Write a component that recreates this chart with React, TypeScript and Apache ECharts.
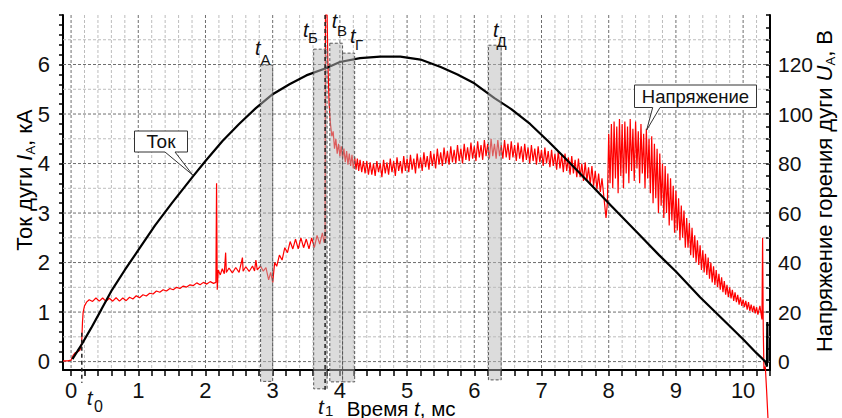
import React, { useEffect, useRef } from 'react';
import * as echarts from 'echarts';

const FONT = "'Liberation Sans', Arial, Helvetica, sans-serif";

// Axis ranges
const T_MIN = -0.12;
const T_MAX = 10.4;
const I_MIN = -0.17;
const I_MAX = 7;

// Axis tick labels
const timeTicks = [0, 1, 2, 3, 4, 5, 6, 7, 8, 9, 10];
const currentTicks = [0, 1, 2, 3, 4, 5, 6];
const voltageTicks = [0, 20, 40, 60, 80, 100, 120];

// Arc current I_A, kA  [t (ms), I (kA)]
const currentData: [number, number][] = [
  [0.02, 0.05], [0.1, 0.22], [0.16, 0.35], [0.3, 0.68], [0.45, 1.05], [0.61, 1.45],
  [0.8, 1.85], [1.0, 2.25], [1.25, 2.75], [1.5, 3.2], [1.82, 3.75], [2.0, 4.05],
  [2.25, 4.45], [2.5, 4.8], [2.75, 5.12], [3.0, 5.4], [3.25, 5.6], [3.5, 5.78],
  [3.8, 5.93], [4.0, 6.05], [4.3, 6.13], [4.6, 6.16], [4.9, 6.16], [5.2, 6.1],
  [5.5, 5.95], [5.75, 5.8], [6.0, 5.62], [6.3, 5.32], [6.55, 5.1], [6.83, 4.8],
  [7.1, 4.45], [7.43, 4.0], [7.7, 3.62], [8.0, 3.2], [8.25, 2.85], [8.5, 2.5],
  [8.75, 2.15], [9.0, 1.82], [9.36, 1.3], [9.7, 0.85], [10.0, 0.45], [10.2, 0.17],
  [10.33, 0.0], [10.355, -0.1], [10.36, 0.8], [10.365, 0.0]
];

// Arc burning voltage U_A, V  [t (ms), U (V)]
const voltageData: [number, number][] = [
  [-0.12, 0.3], [-0.05, 0.3], [0, 0.6], [0.03, 2.5], [0.06, 3.5], [0.1, 4], [0.13, 4.6],
  [0.15, 6], [0.16, 9], [0.17, 16], [0.18, 20], [0.2, 22.5], [0.23, 24], [0.27, 25],
  [0.32, 24.3], [0.37, 25.7], [0.42, 24.4], [0.47, 25.7], [0.52, 24.3], [0.57, 25.6],
  [0.62, 24.4], [0.67, 25.8], [0.72, 24.4], [0.77, 25.7], [0.82, 24.6], [0.87, 26],
  [0.92, 25.3], [0.97, 26.6], [1.02, 25.8], [1.07, 27], [1.12, 26.5], [1.17, 27.6],
  [1.22, 27.3], [1.27, 28.5], [1.32, 28], [1.37, 29], [1.42, 28.5], [1.47, 29.5],
  [1.52, 29], [1.57, 30], [1.62, 29.5], [1.67, 30.5], [1.72, 30.1], [1.77, 31],
  [1.82, 30.7], [1.87, 31.8], [1.92, 31], [1.97, 32], [2.02, 31.3], [2.07, 32.3],
  [2.12, 31.6], [2.155, 32],
  [2.165, 72], [2.175, 29], [2.19, 37], [2.22, 35], [2.25, 37.5], [2.28, 35.5], [2.3, 44],
  [2.31, 36], [2.35, 37.8], [2.4, 35.8], [2.45, 38], [2.5, 36], [2.55, 42], [2.56, 36.5],
  [2.6, 38.3], [2.65, 36.4], [2.7, 38.6], [2.73, 36.6], [2.75, 41], [2.77, 37], [2.82, 38.6],
  [2.86, 36.5], [2.9, 38], [2.94, 33], [2.97, 36], [3.0, 32], [3.03, 40], [3.06, 38.5],
  [3.1, 43], [3.14, 41], [3.18, 46], [3.22, 44], [3.26, 48.5], [3.3, 45.5], [3.34, 49.5],
  [3.38, 45.5], [3.42, 50], [3.46, 46], [3.5, 49.5], [3.54, 45.5], [3.58, 50], [3.62, 46],
  [3.66, 51], [3.7, 47.5], [3.74, 52], [3.765, 48],
  [3.78, 50], [3.785, 140], [3.81, 140], [3.82, 122], [3.84, 104], [3.86, 96], [3.88, 91],
  [3.9, 93], [3.92, 86], [3.94, 90], [3.96, 84], [3.98, 88], [4.0, 83], [4.02, 87], [4.04, 82],
  [4.06, 86], [4.08, 80.5], [4.1, 85], [4.12, 79.5], [4.14, 84], [4.16, 79], [4.18, 83.5],
  [4.2, 78], [4.22, 82.5], [4.24, 77.5], [4.26, 82], [4.28, 77], [4.3, 81.5], [4.325, 76.5],
  [4.35, 81], [4.375, 76], [4.4, 81], [4.425, 75.5], [4.45, 80.5], [4.475, 75.5], [4.5, 80],
  [4.525, 75], [4.55, 81], [4.575, 76.5], [4.6, 80], [4.625, 74.5], [4.65, 81.5], [4.675, 76],
  [4.7, 80.5], [4.725, 75.5], [4.75, 82], [4.775, 76.5], [4.8, 81], [4.825, 75], [4.85, 82.5],
  [4.875, 77], [4.9, 81], [4.925, 76], [4.95, 83], [4.975, 77], [5.0, 82], [5.025, 76.5],
  [5.05, 83.5], [5.075, 77.5], [5.1, 82], [5.125, 76], [5.15, 84], [5.175, 78], [5.2, 82.5],
  [5.225, 77], [5.25, 84.5], [5.275, 78.5], [5.3, 83], [5.325, 77.5], [5.35, 85], [5.375, 79],
  [5.4, 84], [5.425, 78], [5.45, 86], [5.475, 79.5], [5.5, 84.5], [5.525, 79], [5.55, 86.5],
  [5.575, 80], [5.6, 85], [5.625, 79.5], [5.65, 87], [5.675, 80.5], [5.7, 85.5], [5.725, 80],
  [5.75, 87.5], [5.775, 81], [5.8, 86], [5.825, 80], [5.85, 88], [5.875, 81.5], [5.9, 86.5],
  [5.925, 81], [5.95, 88.5], [5.975, 82], [6.0, 87], [6.025, 81], [6.05, 89], [6.075, 82.5],
  [6.1, 87.5], [6.125, 81.5], [6.15, 89.5], [6.175, 83], [6.2, 88], [6.225, 82], [6.25, 90],
  [6.275, 83], [6.3, 88], [6.325, 82], [6.35, 89.5], [6.375, 83], [6.4, 87.5], [6.425, 82],
  [6.45, 89.5], [6.475, 82.5], [6.5, 88], [6.525, 81.5], [6.55, 89], [6.575, 82.5], [6.6, 87.5],
  [6.625, 81], [6.65, 88.5], [6.675, 82], [6.7, 87], [6.725, 80.5], [6.75, 88], [6.775, 81.5],
  [6.8, 86.5], [6.825, 80], [6.85, 87.5], [6.875, 81], [6.9, 86], [6.925, 79.5], [6.95, 87],
  [6.975, 80.5], [7.0, 85.5], [7.025, 79], [7.05, 86.5], [7.075, 80], [7.1, 85], [7.125, 78.5],
  [7.15, 85.5], [7.175, 79], [7.2, 84], [7.225, 77.5], [7.25, 85], [7.275, 78], [7.3, 83.5],
  [7.325, 76.5], [7.35, 84], [7.375, 77], [7.4, 82.5], [7.425, 75.5], [7.45, 83], [7.475, 76],
  [7.5, 81.5], [7.525, 74.5], [7.55, 82], [7.575, 74.5], [7.6, 80], [7.625, 73], [7.65, 80.5],
  [7.675, 73], [7.7, 78.5], [7.725, 71.5], [7.75, 79], [7.775, 71], [7.8, 77], [7.825, 69.5],
  [7.85, 76], [7.875, 68.5], [7.9, 74], [7.93, 66], [7.96, 58], [7.98, 64],
  [8.0, 92], [8.02, 72], [8.04, 96], [8.06, 70], [8.08, 97], [8.1, 74], [8.12, 95], [8.14, 68],
  [8.16, 98], [8.18, 75], [8.2, 96], [8.22, 70], [8.24, 97], [8.26, 76], [8.28, 95], [8.3, 72],
  [8.32, 98], [8.34, 77], [8.36, 94], [8.38, 73], [8.4, 97], [8.42, 78], [8.44, 93], [8.46, 72],
  [8.48, 96], [8.5, 76], [8.52, 92], [8.54, 70], [8.56, 94], [8.58, 74],
  [8.6, 90], [8.62, 68], [8.64, 91], [8.66, 64], [8.68, 88], [8.7, 66], [8.72, 86], [8.74, 60],
  [8.76, 84], [8.78, 63], [8.8, 80], [8.82, 58], [8.84, 79], [8.86, 60], [8.88, 76], [8.9, 55],
  [8.92, 74], [8.94, 57], [8.96, 71], [8.98, 52], [9.0, 69], [9.02, 53], [9.04, 66], [9.06, 49],
  [9.08, 63], [9.1, 50], [9.12, 61], [9.14, 46], [9.16, 58], [9.18, 46], [9.2, 56], [9.22, 43],
  [9.24, 54], [9.26, 42], [9.28, 51], [9.3, 40], [9.32, 49], [9.34, 39], [9.36, 47], [9.38, 37],
  [9.4, 45], [9.42, 36], [9.44, 43.5], [9.46, 35], [9.48, 42], [9.5, 33.5], [9.52, 40], [9.54, 32],
  [9.56, 38.5], [9.58, 31], [9.6, 37], [9.62, 30], [9.64, 35.5], [9.66, 29], [9.68, 34], [9.7, 28],
  [9.72, 32.5], [9.74, 27], [9.76, 31], [9.78, 26], [9.8, 30], [9.82, 25.5], [9.84, 29],
  [9.86, 24.5], [9.88, 28], [9.9, 24], [9.92, 27], [9.94, 23], [9.96, 26], [9.98, 22.5],
  [10.0, 25], [10.02, 22], [10.04, 24.5], [10.06, 21], [10.08, 24], [10.1, 20.5], [10.12, 23],
  [10.14, 20], [10.16, 22.5], [10.18, 19.5], [10.2, 22], [10.22, 19], [10.25, 22.5], [10.28, 17],
  [10.29, 50], [10.3, 12], [10.31, -3], [10.33, -2], [10.35, -12], [10.37, -23]
];

// Shaded intervals t_А, t_Б, t_В, t_Г, t_Д : [tStart, tEnd, top (kA), bottom (kA)]
const bandData: number[][] = [
  [2.82, 3.0, 5.99, -0.4],
  [3.61, 3.81, 6.31, -0.55],
  [3.85, 4.04, 6.43, -0.41],
  [4.04, 4.22, 6.23, -0.41],
  [6.21, 6.4, 6.39, -0.37]
];

// Marker lines t0, t1 : [t, top (kA), bottom (kA)]
const markerData: number[][] = [
  [0.16, 0.58, -0.43],
  [3.78, 7.0, -0.57]
];

const range = (a: number, b: number, step: number) => {
  const out: number[] = [];
  for (let v = a; v <= b + 1e-9; v += step) out.push(Math.round(v * 1000) / 1000);
  return out;
};

// Grid line positions: [t (ms), isMajor] and [I (kA), isMajor]
const gridTimes: number[][] = range(0, 10.2, 0.2).map((t) => [t, Math.abs(t - Math.round(t)) < 1e-6 ? 1 : 0]);
const gridCurrents: number[][] = range(0, 6.5, 0.5).map((i) => [i, Math.abs(i - Math.round(i)) < 1e-6 ? 1 : 0]);

const TEXT = '#111';
const GRID_MAJOR = '#6e6e6e';
const GRID_MINOR = '#bdbdbd';

const txt = (x: number, y: number, text: string, fs: number, extra: any = {}) => ({
  type: 'text', x, y, z: 100, silent: true,
  style: { text, fontSize: fs, fontFamily: FONT, fill: TEXT, align: 'left', verticalAlign: 'middle', ...extra }
});

const tLabel = (x: number, y: number, sx: number, sy: number, sub: string, fs = 20, sfs = 15) => [
  txt(x, y, 't', fs, { fontStyle: 'italic' }),
  txt(sx, sy, sub, sfs)
];

export default function App() {
  const ref = useRef<HTMLDivElement>(null);
  useEffect(() => {
    if (!ref.current) return;
    const chart = echarts.init(ref.current, null, { renderer: 'svg' });
    const richTitle = {
      n: { fontSize: 22, fontFamily: FONT, color: TEXT, lineHeight: 26, verticalAlign: 'middle' },
      i: { fontSize: 22, fontFamily: FONT, color: TEXT, fontStyle: 'italic', lineHeight: 26, verticalAlign: 'middle' },
      s: { fontSize: 13, fontFamily: FONT, color: TEXT, lineHeight: 8, verticalAlign: 'bottom' }
    };
    const texts: any[] = [
      {
        type: 'text', x: 24, y: 180, rotation: Math.PI / 2, z: 100, silent: true,
        style: { text: '{n|Ток дуги }{i|I}{s|А}{n|, кА}', rich: richTitle, align: 'center', verticalAlign: 'middle' }
      },
      {
        type: 'text', x: 824, y: 191, rotation: Math.PI / 2, z: 100, silent: true,
        style: { text: '{n|Напряжение горения дуги }{i|U}{s|А}{n|, В}', rich: richTitle, align: 'center', verticalAlign: 'middle' }
      },
      {
        type: 'text', x: 346.7, y: 408.5, z: 100, silent: true,
        style: {
          text: '{n|Время }{i|t}{n|, мс}', align: 'left', verticalAlign: 'middle',
          rich: {
            n: { fontSize: 20.5, fontFamily: FONT, color: TEXT, lineHeight: 17 },
            i: { fontSize: 20.5, fontFamily: FONT, color: TEXT, fontStyle: 'italic', lineHeight: 17 }
          }
        }
      },
      ...tLabel(255, 48, 260.5, 59.8, 'А'),
      ...tLabel(303, 29.7, 308, 37.8, 'Б'),
      ...tLabel(331.7, 21, 337, 30.8, 'В'),
      ...tLabel(350, 36, 355, 44.8, 'Г'),
      ...tLabel(493, 29.7, 496.5, 41.5, 'Д'),
      ...tLabel(86.7, 397.6, 94, 406.1, '0', 21, 16),
      ...tLabel(318, 406.5, 325, 410.5, '1', 21, 15),
      {
        type: 'polygon', z: 99, silent: true,
        shape: { points: [[134.5, 131], [187.5, 131], [187.5, 152], [175, 152], [192.7, 175], [165, 152], [134.5, 152]] },
        style: { fill: '#fff', stroke: '#333', lineWidth: 1 }
      },
      txt(161, 141.5, 'Ток', 19, { align: 'center' }),
      {
        type: 'polygon', z: 99, silent: true,
        shape: { points: [[634.5, 85], [756.5, 85], [756.5, 107.5], [660, 107.5], [646.7, 130], [652.7, 107.5], [634.5, 107.5]] },
        style: { fill: '#fff', stroke: '#333', lineWidth: 1 }
      },
      txt(695.5, 96.5, 'Напряжение', 18.5, { align: 'center' })
    ];
    const gridLineStyle = (major: boolean) => ({
      stroke: major ? GRID_MAJOR : GRID_MINOR, lineWidth: 1, lineDash: [3, 2], fill: null
    });
    const option: any = {
      animation: false,
      grid: { left: 63, top: 15, right: 72, bottom: 48, containLabel: false },
      xAxis: [
        {
          type: 'value', min: T_MIN, max: T_MAX, position: 'bottom',
          axisLine: { show: true, onZero: false, lineStyle: { color: '#000', width: 2 } },
          axisTick: { show: true, customValues: range(0, 10.4, 0.2), length: 6, lineStyle: { color: '#000', width: 1.5 } },
          axisLabel: { customValues: timeTicks, fontSize: 22, color: TEXT, fontFamily: FONT, margin: 9 },
          splitLine: { show: false }
        }
      ],
      yAxis: [
        {
          type: 'value', min: I_MIN, max: I_MAX, position: 'left',
          axisLine: { show: true, onZero: false, lineStyle: { color: '#000', width: 2 } },
          axisTick: { show: true, customValues: range(0, 7, 0.2), length: 4, lineStyle: { color: '#000', width: 1.5 } },
          axisLabel: { customValues: currentTicks, fontSize: 22, color: TEXT, fontFamily: FONT, margin: 13 },
          splitLine: { show: false }
        },
        {
          type: 'value', min: I_MIN * 20, max: I_MAX * 20, position: 'right',
          axisLine: { show: true, onZero: false, lineStyle: { color: '#000', width: 2 } },
          axisTick: { show: true, inside: true, customValues: range(0, 140, 5), length: 4, lineStyle: { color: '#000', width: 1.5 } },
          axisLabel: { customValues: voltageTicks, fontSize: 21, color: TEXT, fontFamily: FONT, margin: 8 },
          splitLine: { show: false }
        }
      ],
      series: [
        {
          type: 'custom', name: 'gridV', xAxisIndex: 0, yAxisIndex: 0, data: gridTimes, clip: false, z: 2, silent: true,
          encode: { x: 0 },
          renderItem: (params: any, api: any) => {
            const t = api.value(0);
            const top = api.coord([t, I_MAX]);
            const bot = api.coord([t, I_MIN]);
            return {
              type: 'line', z2: -10,
              shape: { x1: top[0], y1: top[1], x2: bot[0], y2: bot[1] },
              style: gridLineStyle(api.value(1) === 1)
            };
          }
        },
        {
          type: 'custom', name: 'gridH', xAxisIndex: 0, yAxisIndex: 0, data: gridCurrents, clip: false, z: 2, silent: true,
          encode: { y: 0 },
          renderItem: (params: any, api: any) => {
            const i = api.value(0);
            const l = api.coord([T_MIN, i]);
            const r = api.coord([T_MAX, i]);
            return {
              type: 'line', z2: -10,
              shape: { x1: l[0], y1: l[1], x2: r[0], y2: r[1] },
              style: gridLineStyle(api.value(1) === 1)
            };
          }
        },
        {
          type: 'line', name: 'Напряжение', xAxisIndex: 0, yAxisIndex: 1, data: voltageData,
          symbol: 'none', showSymbol: false, clip: false, z: 2,
          lineStyle: { color: '#ff0000', width: 1.2 }
        },
        {
          type: 'line', name: 'Ток', xAxisIndex: 0, yAxisIndex: 0, data: currentData,
          symbol: 'none', showSymbol: false, clip: false, z: 3,
          lineStyle: { color: '#000', width: 2.2 }
        },
        {
          type: 'custom', xAxisIndex: 0, yAxisIndex: 0, data: bandData, clip: false, z: 4, silent: true,
          encode: { x: [0, 1], y: [2, 3] },
          renderItem: (params: any, api: any) => {
            const p0 = api.coord([api.value(0), api.value(2)]);
            const p1 = api.coord([api.value(1), api.value(3)]);
            return {
              type: 'rect',
              shape: { x: p0[0], y: p0[1], width: p1[0] - p0[0], height: p1[1] - p0[1] },
              style: { fill: 'rgba(185,185,185,0.5)', stroke: '#555', lineWidth: 1, lineDash: [3, 2] }
            };
          }
        },
        {
          type: 'custom', xAxisIndex: 0, yAxisIndex: 0, data: markerData, clip: false, z: 5, silent: true,
          encode: { x: 0, y: [1, 2] },
          renderItem: (params: any, api: any) => {
            const p0 = api.coord([api.value(0), api.value(1)]);
            const p1 = api.coord([api.value(0), api.value(2)]);
            return {
              type: 'line',
              shape: { x1: p0[0], y1: p0[1], x2: p1[0], y2: p1[1] },
              style: { stroke: '#222', lineWidth: 1.5, lineDash: [4, 3] }
            };
          }
        }
      ],
      graphic: { elements: texts }
    };
    chart.setOption(option);
    return () => chart.dispose();
  }, []);
  return <div ref={ref} style={{ position: 'fixed', left: 0, top: 0, width: 842, height: 418, background: '#fff' }} />;
}
